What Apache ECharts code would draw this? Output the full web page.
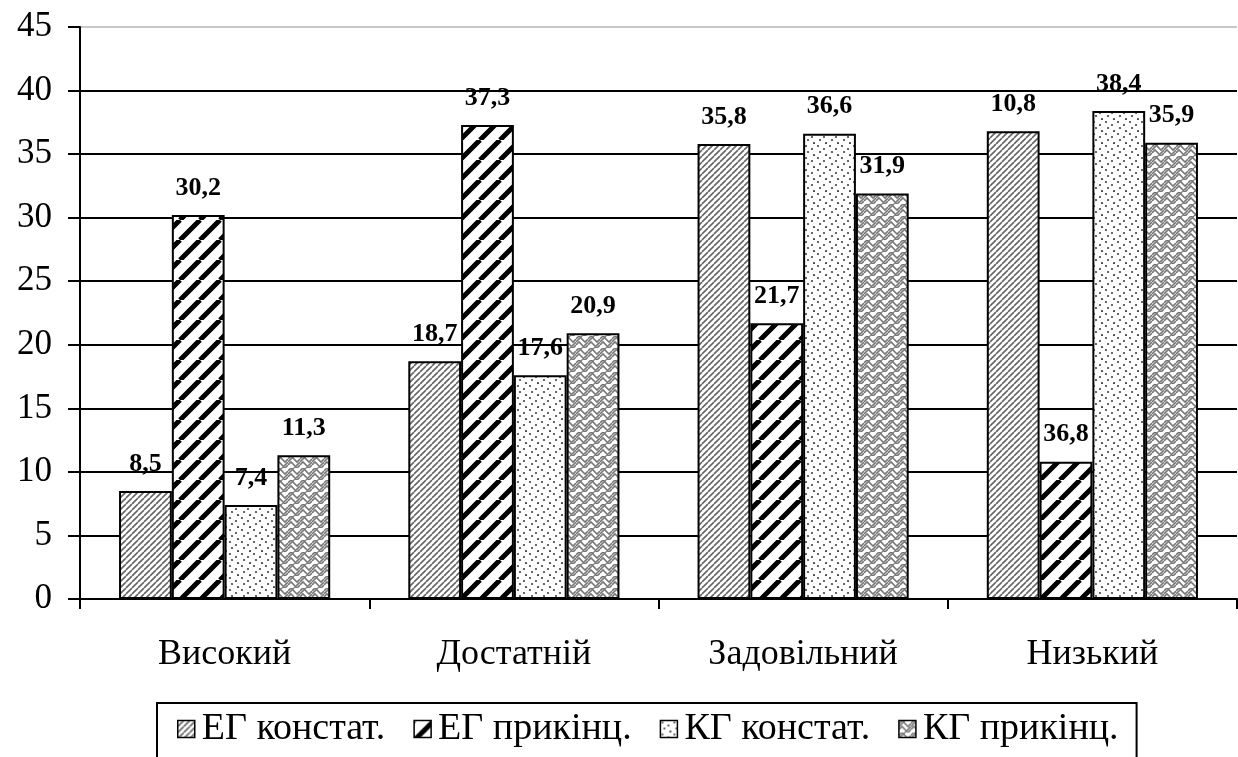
<!DOCTYPE html>
<html>
<head>
<meta charset="utf-8">
<script src="https://cdn.jsdelivr.net/npm/echarts@6/dist/echarts.min.js"></script>
<style>
  html, body { margin: 0; padding: 0; background: #fff; }
  #chart { width: 1238px; height: 757px; }
</style>
</head>
<body>
<div id="chart"></div>
<script>
// категорії і дані (висота стовпчиків та підписи як у оригіналі)
const categories = ['Високий', 'Достатній', 'Задовільний', 'Низький']
const seriesNames = ['ЕГ констат.', 'ЕГ прикінц.', 'КГ констат.', 'КГ прикінц.']
const egStart = [8.5, 18.7, 35.8, 36.8]
const egEnd = [30.2, 37.3, 21.7, 10.8]
const kgStart = [7.4, 17.6, 36.6, 38.4]
const kgEnd = [11.3, 20.9, 31.9, 35.9]
// підписи над стовпчиками (у групі «Низький» в оригіналі переставлені)
const egStartLabels = ['8,5', '18,7', '35,8', '10,8']
const egEndLabels = ['30,2', '37,3', '21,7', '36,8']
const kgStartLabels = ['7,4', '17,6', '36,6', '38,4']
const kgEndLabels = ['11,3', '20,9', '31,9', '35,9']
const yTicks = [0, 5, 10, 15, 20, 25, 30, 35, 40, 45]

const FONT = '"Liberation Serif", "Times New Roman", serif'

const makeTile = (size, draw) => {
  const c = document.createElement('canvas')
  c.width = size
  c.height = size
  const ctx = c.getContext('2d')
  ctx.fillStyle = '#fff'
  ctx.fillRect(0, 0, size, size)
  draw(ctx, size)
  return { image: c, repeat: 'repeat' }
}

// тонке діагональне штрихування
const fineHatch = makeTile(6, (ctx, s) => {
  ctx.strokeStyle = '#666'
  ctx.lineWidth = 1.6
  ctx.beginPath()
  for (let k = -1; k <= 1; k++) {
    ctx.moveTo(k * s, s)
    ctx.lineTo(k * s + s, 0)
  }
  ctx.stroke()
})

// широкі чорні діагоналі
const boldHatch = makeTile(20, (ctx, s) => {
  ctx.strokeStyle = '#000'
  ctx.lineWidth = 5
  ctx.beginPath()
  for (let k = -1; k <= 1; k++) {
    ctx.moveTo(k * s, s)
    ctx.lineTo(k * s + s, 0)
  }
  ctx.stroke()
})

// рідкі крапки
const dots = makeTile(12, (ctx, s) => {
  ctx.fillStyle = '#444'
  const pts = [[2, 2], [8, 5], [4, 8], [10, 11]]
  pts.forEach(p => {
    ctx.beginPath()
    ctx.arc(p[0], p[1], 1.1, 0, Math.PI * 2)
    ctx.fill()
  })
})

// плетіння
const weave = makeTile(12, (ctx, s) => {
  ctx.strokeStyle = '#777'
  ctx.lineWidth = 1.6
  ctx.beginPath()
  ctx.moveTo(0, 3); ctx.lineTo(3, 0); ctx.lineTo(9, 6); ctx.lineTo(12, 3)
  ctx.moveTo(0, 9); ctx.lineTo(3, 6); ctx.lineTo(9, 12)
  ctx.moveTo(9, 12); ctx.lineTo(12, 9)
  ctx.moveTo(6, 0); ctx.lineTo(0, 6)
  ctx.moveTo(12, 6); ctx.lineTo(6, 12)
  ctx.stroke()
})

const chart = echarts.init(document.getElementById('chart'))

const makeSeries = (name, data, labels, fill) => ({
  name: name,
  type: 'bar',
  data: data,
  barGap: '0%',
  barCategoryGap: '27%',
  itemStyle: {
    color: fill,
    borderColor: '#000',
    borderWidth: 2
  },
  label: {
    show: true,
    position: 'top',
    distance: 14,
    color: '#000',
    fontFamily: FONT,
    fontWeight: 'bold',
    fontSize: 26,
    formatter: p => labels[p.dataIndex]
  }
})

const splitColors = yTicks.map((t, i) => i === yTicks.length - 1 ? '#c8c8c8' : '#000')

const option = {
  animation: false,
  backgroundColor: '#fff',
  textStyle: { fontFamily: FONT },
  grid: {
    left: 80,
    right: 1,
    top: 27,
    bottom: 158
  },
  legend: {
    data: seriesNames,
    icon: 'rect',
    left: 157,
    top: 703,
    itemWidth: 17,
    itemHeight: 17,
    itemGap: 28,
    padding: [7, 18, 20, 20],
    borderColor: '#000',
    borderWidth: 2,
    itemStyle: { borderWidth: 1.5, borderColor: '#000' },
    textStyle: {
      color: '#000',
      fontFamily: FONT,
      fontSize: 38,
      padding: [0, 0, 0, 2]
    }
  },
  xAxis: {
    type: 'category',
    data: categories,
    axisLine: { lineStyle: { color: '#000', width: 2 } },
    axisTick: { show: true, length: 10, inside: false, lineStyle: { color: '#000', width: 2 } },
    axisLabel: {
      color: '#000',
      fontFamily: FONT,
      fontSize: 36,
      margin: 38
    }
  },
  yAxis: {
    type: 'value',
    min: 0,
    max: 45,
    interval: 5,
    axisLine: { show: true, lineStyle: { color: '#000', width: 2 } },
    axisTick: { show: true, length: 12, lineStyle: { color: '#000', width: 2 } },
    axisLabel: {
      color: '#000',
      fontFamily: FONT,
      fontSize: 35,
      margin: 28
    },
    splitLine: { show: true, lineStyle: { color: splitColors, width: 2 } }
  },
  series: [
    makeSeries(seriesNames[0], egStart, egStartLabels, fineHatch),
    makeSeries(seriesNames[1], egEnd, egEndLabels, boldHatch),
    makeSeries(seriesNames[2], kgStart, kgStartLabels, dots),
    makeSeries(seriesNames[3], kgEnd, kgEndLabels, weave)
  ]
}

chart.setOption(option)
</script>
</body>
</html>
